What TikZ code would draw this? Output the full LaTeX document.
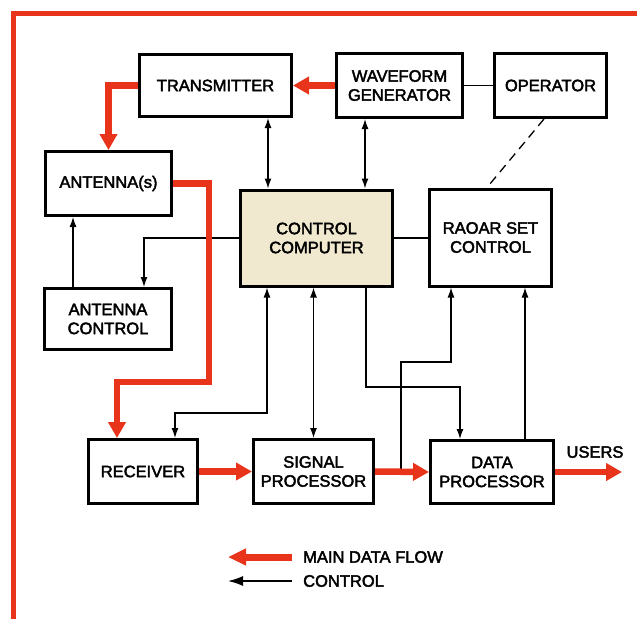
\documentclass[tikz,border=0pt]{standalone}
\usepackage{fontspec}
\setmainfont{Liberation Sans}[FakeBold=2.5]
\usetikzlibrary{arrows.meta,calc}
\definecolor{flowred}{RGB}{232,52,26}
\definecolor{ccfill}{RGB}{241,233,207}
\begin{document}
\begin{tikzpicture}[x=1pt,y=-1pt,
  lbl/.style={font=\fontsize{16.5}{19}\selectfont,align=center},
  box/.style={lbl,draw=black,line width=3pt,fill=white,inner sep=0pt,outer sep=1.5pt},
  ctl/.style={draw=black,line width=1.3pt,>={Latex[length=10pt,width=7pt]}},
  flow/.style={draw=flowred,line width=6.5pt,>={Triangle[length=16pt,width=17pt]},->}
]
\useasboundingbox (0,0) rectangle (637,619);
% frame
\draw[flowred,line width=5pt] (637,13) -- (13,13) -- (13,619);

% boxes
\node[box,minimum width=152pt,minimum height=62pt] (tr) at (215.5,85.5) {TRANSMITTER};
\node[box,minimum width=126pt,minimum height=64pt] (wg) at (399.5,85.5) {WAVEFORM\\GENERATOR};
\node[box,minimum width=112pt,minimum height=64pt] (op) at (550.5,85.5) {OPERATOR};
\node[box,minimum width=126pt,minimum height=64pt] (ant) at (108.5,183.5) {ANTENNA(s)};
\node[box,fill=ccfill,minimum width=152pt,minimum height=96pt] (cc) at (316.5,238) {CONTROL\\COMPUTER};
\node[box,minimum width=122pt,minimum height=97pt] (rsc) at (490.5,237.5) {RAOAR SET\\CONTROL};
\node[box,minimum width=127pt,minimum height=61pt] (ac) at (108,319) {ANTENNA\\CONTROL};
\node[box,minimum width=109pt,minimum height=64pt] (rec) at (143,471.5) {RECEIVER};
\node[box,minimum width=120pt,minimum height=64pt] (sp) at (313.5,471.5) {SIGNAL\\PROCESSOR};
\node[box,minimum width=123pt,minimum height=63pt] (dp) at (492,472) {DATA\\PROCESSOR};
\node[lbl,inner sep=0pt] (ulab) at (595,452) {USERS};

% control connectors
\draw[ctl,<->] (268,0 |- tr.south) -- (268,0 |- cc.north);
\draw[ctl,<->] (365,0 |- wg.south) -- (365,0 |- cc.north);
\draw[ctl] (wg.east) -- (op.west);
\draw[ctl,dash pattern=on 9pt off 6pt] (544,0 |- op.south) -- (487,0 |- rsc.north);
\draw[ctl,->] (cc.west) -| (144,0 |- ac.north);
\draw[ctl,->] (73,0 |- ac.north) -- (73,0 |- ant.south);
\draw[ctl] (cc.east) -- (cc.east -| rsc.west);
\draw[ctl,<->] (267,0 |- cc.south) |- (175,413) -- (175,0 |- rec.north);
\draw[ctl,<->] (sp.north |- cc.south) -- (sp.north);
\draw[ctl,->] (366,0 |- cc.south) |- (460,387) -- (460,0 |- dp.north);
\draw[ctl,->] (sp.east -| 401,0) |- (451,362) -- (451,0 |- rsc.south);
\draw[ctl,->] (525,0 |- dp.north) -- (525,0 |- rsc.south);

% main data flow
\coordinate (users) at (622,472);
\draw[flow] (wg.west) -- (tr.east);
\draw[flow] (tr.west) -| (ant.north);
\draw[flow] (ant.east) -| (209,382) -| ([xshift=-26pt]rec.north);
\draw[flow] (rec.east) -- (sp.west);
\draw[flow] (sp.east) -- (dp.west);
\draw[flow] (dp.east) -- (users);

% legend
\node[lbl,anchor=west,inner sep=0pt] (l1) at (303,557) {MAIN DATA FLOW};
\node[lbl,anchor=west,inner sep=0pt] (l2) at (303,581) {CONTROL};
\coordinate (l1s) at (292,557);
\coordinate (l1t) at (228,557);
\coordinate (l2s) at (292,581);
\coordinate (l2t) at (228,581);
\draw[flowred,line width=7pt,>={Triangle[length=18pt,width=16pt]},->] (l1s) -- (l1t);
\draw[black,line width=1.5pt,>={Latex[length=15pt,width=10pt]},->] (l2s) -- (l2t);
\end{tikzpicture}
\end{document}
